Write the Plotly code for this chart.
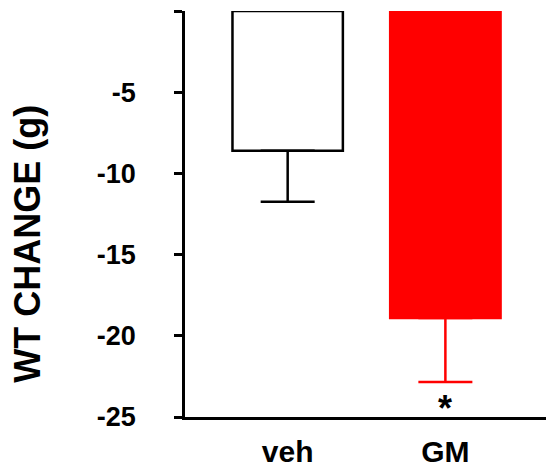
import plotly.graph_objects as go

categories = ["veh", "GM"]
means = [-8.6, -18.9]
sems = [3.15, 3.95]
fill_colors = ["white", "#ff0000"]
line_colors = ["black", "#ff0000"]
ytick_vals = [0, -5, -10, -15, -20, -25]
ytick_text = ["", "-5", "-10", "-15", "-20", "-25"]

FONT = "Liberation Sans, Arial, sans-serif"

fig = go.Figure()
for i, cat in enumerate(categories):
    fig.add_trace(go.Bar(
        x=[i], y=[means[i]], width=0.70,
        marker=dict(color=fill_colors[i], line=dict(color=line_colors[i], width=2.5)),
        error_y=dict(type="data", symmetric=False, array=[0], arrayminus=[sems[i]],
                     color=line_colors[i], thickness=2.5, width=27),
        showlegend=False, name=cat,
    ))

fig.add_annotation(x=1, y=-24.45, xref="x", yref="y", text="*", showarrow=False,
                   font=dict(family=FONT, size=36, color="black", weight="bold"),
                   yanchor="middle")
fig.add_annotation(x=(28 - 185) / 361, y=0.4267, xref="paper", yref="paper",
                   text="WT CHANGE (g)", textangle=-90, showarrow=False,
                   font=dict(family=FONT, size=36, color="black", weight="bold"),
                   xanchor="center", yanchor="middle")

fig.update_layout(
    width=546, height=468,
    margin=dict(l=185, r=0, t=11, b=47, pad=0),
    plot_bgcolor="white", paper_bgcolor="white",
    barmode="overlay",
    xaxis=dict(range=[-0.651, 1.638], tickvals=[0, 1], ticktext=categories,
               showline=True, linecolor="black", linewidth=2.5, ticks="",
               showgrid=False, zeroline=False,
               tickfont=dict(family=FONT, size=30, color="black", weight="bold"),
               ticklabelstandoff=6),
    yaxis=dict(range=[-25, 0], tickvals=ytick_vals, ticktext=ytick_text,
               showline=True, linecolor="black", linewidth=2.5,
               ticks="outside", ticklen=8, tickwidth=2.5, tickcolor="black",
               showgrid=False, zeroline=False,
               tickfont=dict(family=FONT, size=27, color="black", weight="bold"),
               ticklabelstandoff=33),
)

fig.write_html("out.html")
